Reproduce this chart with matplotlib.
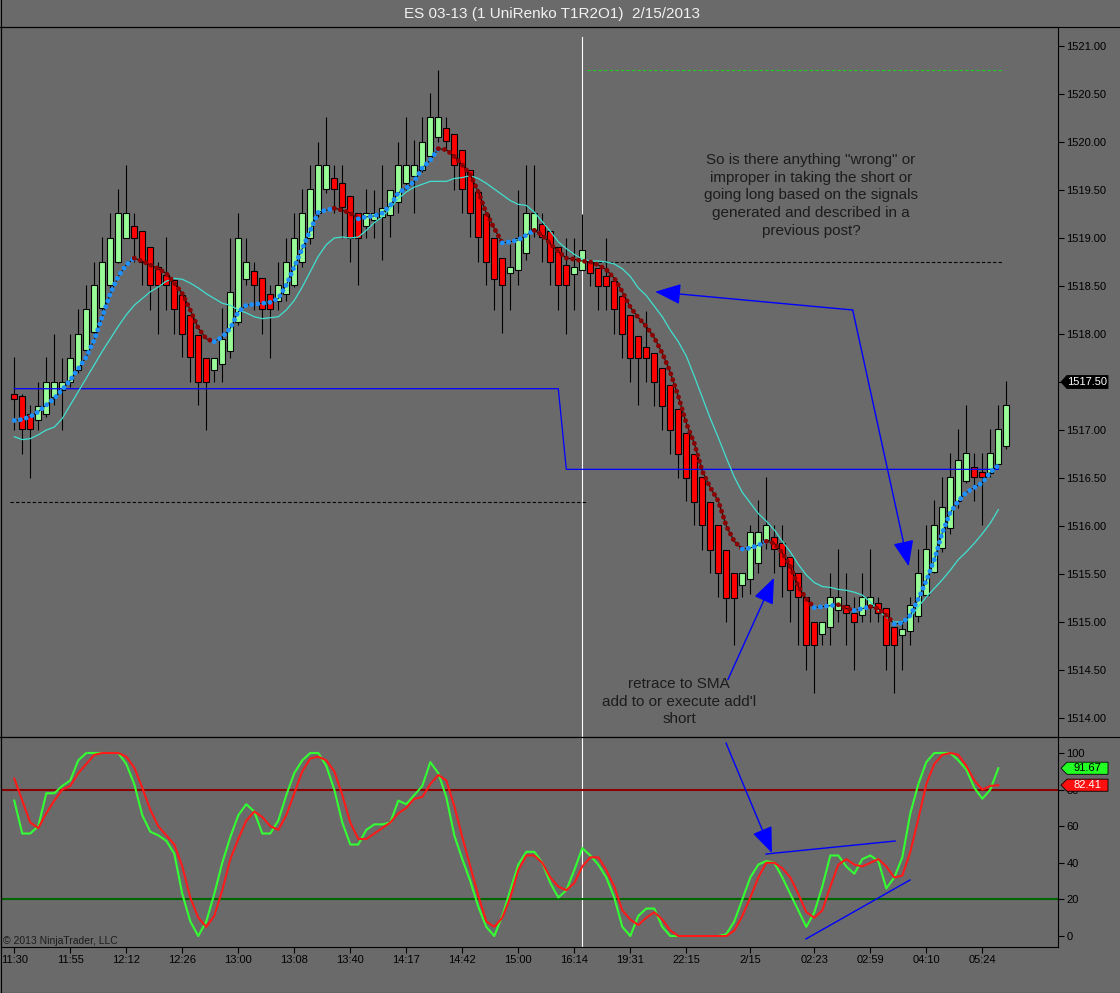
"""
ES 03-13 UniRenko chart (NinjaTrader style) with stochastics panel below.
"""

import matplotlib
matplotlib.use("Agg")
import matplotlib.pyplot as plt
import numpy as np
from matplotlib.lines import Line2D
from matplotlib.patches import Polygon
from matplotlib.transforms import blended_transform_factory

plt.rcParams['font.family'] = ['Liberation Sans', 'DejaVu Sans']

# ----------------------------------------------------------------------------
# Data
# ----------------------------------------------------------------------------
opens = [1517.38, 1517.35, 1517.17, 1517.10, 1517.17, 1517.34, 1517.42, 1517.50, 1517.63, 1517.83,
         1518.02, 1518.27, 1518.51, 1518.75, 1519.00, 1519.13, 1519.07, 1518.91, 1518.70, 1518.61,
         1518.56, 1518.41, 1518.20, 1517.99, 1517.75, 1517.63, 1517.69, 1517.82, 1518.13, 1518.57,
         1518.66, 1518.58, 1518.42, 1518.34, 1518.42, 1518.51, 1518.75, 1519.00, 1519.26, 1519.51,
         1519.63, 1519.57, 1519.44, 1519.26, 1519.12, 1519.19, 1519.22, 1519.24, 1519.38, 1519.57,
         1519.65, 1519.71, 1519.85, 1520.05, 1520.15, 1520.08, 1519.92, 1519.71, 1519.48, 1519.25,
         1519.00, 1518.79, 1518.64, 1518.67, 1518.84, 1519.08, 1519.15, 1519.07, 1518.91, 1518.72,
         1518.62, 1518.67, 1518.75, 1518.69, 1518.60, 1518.55, 1518.40, 1518.20, 1517.98, 1517.86,
         1517.80, 1517.65, 1517.47, 1517.22, 1516.97, 1516.75, 1516.51, 1516.25, 1516.01, 1515.75,
         1515.51, 1515.39, 1515.45, 1515.61, 1515.85, 1515.89, 1515.82, 1515.68, 1515.51, 1515.26,
         1515.00, 1514.88, 1514.95, 1515.13, 1515.18, 1515.09, 1515.07, 1515.18, 1515.20, 1515.15,
         1514.95, 1514.86, 1514.91, 1515.06, 1515.28, 1515.52, 1515.77, 1515.98, 1516.26, 1516.47,
         1516.61, 1516.56, 1516.55, 1516.65, 1516.83]
closes = [1517.32, 1517.01, 1517.01, 1517.25, 1517.50, 1517.50, 1517.50, 1517.75, 1518.00, 1518.26,
          1518.51, 1518.75, 1519.00, 1519.26, 1519.26, 1519.00, 1518.75, 1518.51, 1518.51, 1518.51,
          1518.26, 1518.00, 1517.76, 1517.50, 1517.50, 1517.75, 1517.95, 1518.44, 1519.00, 1518.75,
          1518.51, 1518.26, 1518.26, 1518.51, 1518.75, 1519.00, 1519.26, 1519.51, 1519.76, 1519.76,
          1519.51, 1519.32, 1519.00, 1519.00, 1519.26, 1519.26, 1519.31, 1519.50, 1519.76, 1519.76,
          1519.76, 1520.00, 1520.26, 1520.26, 1520.01, 1519.76, 1519.51, 1519.26, 1519.01, 1518.75,
          1518.57, 1518.51, 1518.70, 1519.00, 1519.26, 1519.26, 1519.01, 1518.75, 1518.51, 1518.51,
          1518.70, 1518.88, 1518.64, 1518.50, 1518.50, 1518.26, 1518.00, 1517.75, 1517.75, 1517.75,
          1517.50, 1517.25, 1517.00, 1516.75, 1516.50, 1516.25, 1516.01, 1515.75, 1515.51, 1515.25,
          1515.25, 1515.51, 1515.94, 1515.94, 1516.01, 1515.76, 1515.58, 1515.33, 1515.26, 1514.76,
          1514.76, 1515.00, 1515.26, 1515.26, 1515.09, 1515.00, 1515.26, 1515.26, 1515.09, 1514.76,
          1514.76, 1514.93, 1515.18, 1515.51, 1515.76, 1516.01, 1516.20, 1516.51, 1516.69, 1516.76,
          1516.51, 1516.51, 1516.76, 1517.01, 1517.26]
highs = [1517.76, 1517.38, 1517.26, 1517.50, 1517.76, 1518.00, 1517.75, 1518.00, 1518.26, 1518.51,
         1518.75, 1519.01, 1519.26, 1519.51, 1519.76, 1519.26, 1519.07, 1518.91, 1518.75, 1519.01,
         1518.56, 1518.41, 1518.20, 1517.99, 1517.75, 1517.75, 1518.27, 1519.00, 1519.26, 1519.00,
         1518.75, 1518.58, 1518.51, 1518.75, 1519.00, 1519.26, 1519.51, 1519.76, 1520.00, 1520.26,
         1519.76, 1519.76, 1519.44, 1519.26, 1519.51, 1519.50, 1519.76, 1519.50, 1520.00, 1520.26,
         1520.02, 1520.26, 1520.51, 1520.75, 1520.26, 1520.08, 1519.92, 1519.71, 1519.48, 1519.25,
         1519.00, 1518.79, 1518.94, 1519.50, 1519.76, 1519.76, 1519.26, 1519.07, 1518.91, 1519.00,
         1519.00, 1519.25, 1518.75, 1518.69, 1519.00, 1518.55, 1518.40, 1518.20, 1517.98, 1518.24,
         1517.80, 1517.65, 1517.47, 1517.22, 1516.97, 1516.75, 1516.51, 1516.25, 1516.01, 1515.75,
         1515.51, 1515.51, 1516.01, 1516.27, 1516.51, 1516.01, 1516.01, 1515.68, 1515.51, 1515.26,
         1515.00, 1515.00, 1515.51, 1515.76, 1515.51, 1515.26, 1515.51, 1515.76, 1515.26, 1515.15,
         1514.95, 1515.00, 1515.26, 1515.76, 1516.01, 1516.27, 1516.51, 1516.76, 1517.01, 1517.26,
         1516.76, 1516.76, 1517.01, 1517.26, 1517.51]
lows = [1517.00, 1516.75, 1516.50, 1517.00, 1517.14, 1517.26, 1517.00, 1517.45, 1517.59, 1517.80,
        1518.00, 1518.23, 1518.46, 1518.74, 1519.00, 1518.75, 1518.51, 1518.25, 1518.00, 1518.25,
        1518.00, 1517.76, 1517.50, 1517.26, 1517.00, 1517.50, 1517.50, 1517.75, 1518.09, 1518.51,
        1518.25, 1518.00, 1517.75, 1518.25, 1518.34, 1518.49, 1518.70, 1518.94, 1519.22, 1519.47,
        1519.26, 1519.00, 1518.75, 1518.51, 1519.00, 1519.00, 1518.77, 1519.01, 1519.26, 1519.50,
        1519.26, 1519.69, 1519.85, 1520.00, 1519.92, 1519.50, 1519.26, 1519.01, 1518.75, 1518.51,
        1518.25, 1518.01, 1518.25, 1518.51, 1518.77, 1519.01, 1518.75, 1518.51, 1518.25, 1518.00,
        1518.25, 1518.67, 1518.50, 1518.25, 1518.25, 1518.00, 1517.75, 1517.50, 1517.26, 1517.50,
        1517.25, 1517.00, 1516.75, 1516.50, 1516.26, 1516.01, 1515.75, 1515.51, 1515.26, 1515.00,
        1514.76, 1515.26, 1515.29, 1515.51, 1515.76, 1515.51, 1515.26, 1515.00, 1514.76, 1514.50,
        1514.26, 1514.76, 1514.76, 1515.00, 1514.76, 1514.50, 1515.00, 1515.00, 1515.00, 1514.50,
        1514.26, 1514.50, 1514.76, 1515.00, 1515.26, 1515.51, 1515.73, 1515.92, 1516.19, 1516.45,
        1516.26, 1516.01, 1516.51, 1516.60, 1516.80]

# fast MA (dotted, coloured by slope)
ma_fast = [1517.10, 1517.11, 1517.14, 1517.19, 1517.26, 1517.33, 1517.42, 1517.52, 1517.64, 1517.76,
           1517.94, 1518.18, 1518.42, 1518.60, 1518.72, 1518.79, 1518.76, 1518.72, 1518.68, 1518.63,
           1518.53, 1518.42, 1518.25, 1518.06, 1517.95, 1517.92, 1517.97, 1518.06, 1518.23, 1518.30,
           1518.31, 1518.32, 1518.33, 1518.37, 1518.51, 1518.70, 1518.89, 1519.08, 1519.27, 1519.29,
           1519.31, 1519.29, 1519.26, 1519.20, 1519.22, 1519.23, 1519.26, 1519.34, 1519.47, 1519.52,
           1519.59, 1519.73, 1519.81, 1519.93, 1519.92, 1519.85, 1519.76, 1519.66, 1519.48, 1519.26,
           1519.10, 1518.95, 1518.96, 1518.98, 1519.03, 1519.08, 1519.03, 1518.94, 1518.86, 1518.79,
           1518.78, 1518.76, 1518.75, 1518.72, 1518.67, 1518.58, 1518.44, 1518.28, 1518.17, 1518.08,
           1517.96, 1517.80, 1517.60, 1517.35, 1517.07, 1516.86, 1516.57, 1516.40, 1516.26, 1516.00,
           1515.84, 1515.76, 1515.77, 1515.80, 1515.84, 1515.82, 1515.72, 1515.58, 1515.37, 1515.24,
           1515.15, 1515.16, 1515.17, 1515.18, 1515.14, 1515.12, 1515.14, 1515.16, 1515.14, 1515.07,
           1514.98, 1514.99, 1515.07, 1515.24, 1515.43, 1515.65, 1515.93, 1516.14, 1516.26, 1516.35,
           1516.40, 1516.45, 1516.56, 1516.63]
# SMA (turquoise)
sma = [1516.93, 1516.90, 1516.91, 1516.95, 1517.00, 1517.03, 1517.12, 1517.26, 1517.40, 1517.54,
       1517.68, 1517.82, 1517.95, 1518.08, 1518.20, 1518.30, 1518.37, 1518.44, 1518.49, 1518.55,
       1518.58, 1518.57, 1518.53, 1518.48, 1518.42, 1518.37, 1518.32, 1518.30, 1518.25, 1518.22,
       1518.18, 1518.16, 1518.17, 1518.18, 1518.25, 1518.35, 1518.49, 1518.65, 1518.81, 1518.93,
       1519.00, 1519.01, 1519.00, 1519.01, 1519.08, 1519.16, 1519.22, 1519.31, 1519.41, 1519.48,
       1519.53, 1519.56, 1519.59, 1519.59, 1519.59, 1519.62, 1519.63, 1519.65, 1519.62, 1519.57,
       1519.51, 1519.45, 1519.39, 1519.35, 1519.34, 1519.27, 1519.17, 1519.07, 1518.96, 1518.89,
       1518.83, 1518.78, 1518.76, 1518.76, 1518.75, 1518.73, 1518.68, 1518.60, 1518.48, 1518.40,
       1518.29, 1518.18, 1518.04, 1517.92, 1517.77, 1517.56, 1517.34, 1517.12, 1516.92, 1516.71,
       1516.51, 1516.35, 1516.24, 1516.13, 1516.05, 1515.96, 1515.84, 1515.73, 1515.60, 1515.49,
       1515.41, 1515.37, 1515.36, 1515.34, 1515.33, 1515.31, 1515.28, 1515.21, 1515.12, 1515.05,
       1515.00, 1515.00, 1515.05, 1515.16, 1515.26, 1515.35, 1515.44, 1515.54, 1515.65, 1515.73,
       1515.82, 1515.92, 1516.03, 1516.17]
# session level line (blue step)
level_line = [1517.43] * 69 + [1516.59] * 55

# prior-session levels (dashed)
prior_low = 1516.25
prior_close = 1518.75
prior_high = 1520.75
last_price = 1517.50

# stochastics
stoch_k = [74, 56, 56, 60, 78, 78, 82, 85, 96, 100, 100, 100, 100, 100, 94, 83, 66, 57, 55, 52,
           45, 23, 8, 0, 8, 23, 40, 54, 66, 72, 68, 56, 56, 63, 77, 89, 96, 100, 100, 93,
           80, 62, 50, 50, 58, 61, 61, 62, 74, 72, 77, 82, 95, 89, 76, 55, 42, 30, 16, 5,
           0, 11, 25, 39, 46, 46, 40, 29, 21, 25, 36, 48, 44, 39, 32, 21, 5, 0, 11, 15,
           15, 5, 0, 0, 0, 0, 0, 0, 0, 1, 8, 20, 32, 39, 41, 40, 32, 23, 14, 5,
           13, 27, 44, 44, 38, 34, 42, 44, 41, 26, 32, 43, 67, 83, 95, 100, 100, 100, 96, 91,
           81, 75, 80, 91.67]
stoch_d = [86, 74, 62, 59, 67, 74, 80, 82, 89, 94, 99, 100, 100, 100, 98, 92, 81, 69, 60, 55,
           50, 38, 21, 10, 5, 11, 25, 42, 53, 63, 68, 65, 60, 58, 66, 78, 90, 97, 98, 96,
           90, 77, 62, 53, 53, 56, 59, 62, 67, 70, 75, 76, 83, 88, 85, 71, 54, 38, 22, 8,
           5, 10, 21, 36, 44, 44, 40, 32, 27, 25, 29, 38, 43, 43, 36, 27, 14, 9, 6, 10,
           13, 9, 3, 0, 0, 0, 0, 0, 0, 0, 3, 11, 21, 32, 40, 40, 37, 32, 23, 13,
           10, 14, 27, 39, 42, 39, 38, 40, 42, 38, 32, 33, 46, 64, 83, 94, 99, 100, 99, 93,
           85, 80, 82, 82.41]

x_tick_bars = [0, 7, 14, 21, 28, 35, 42, 49, 56, 63, 70, 77, 84, 92, 100, 107, 114, 121]
x_tick_labels = ['11:30', '11:55', '12:12', '12:26', '13:00', '13:08', '13:40', '14:17', '14:42',
                 '15:00', '16:14', '19:31', '22:15', '2/15', '02:23', '02:59', '04:10', '05:24']
session_bar = 71

# ----------------------------------------------------------------------------
# Styling
# ----------------------------------------------------------------------------
BG = '#6a6a6a'
UP = '#98fb98'
DOWN = '#ff0000'
MA_UP = '#1e90ff'
MA_DN = '#8b0000'
TXT = '#1c1c1c'
W, H = 1120, 993


def fx(px):
    return px / W


def fy(py):
    return 1 - py / H


fig = plt.figure(figsize=(W / 100, H / 100), dpi=100, facecolor=BG)
ax = fig.add_axes([fx(1), fy(737), fx(1058) - fx(1), fy(27) - fy(737)], facecolor=BG)
ax2 = fig.add_axes([fx(1), fy(947), fx(1058) - fx(1), fy(737) - fy(947)], facecolor=BG, sharex=ax)

opens = np.array(opens); closes = np.array(closes)
highs = np.array(highs); lows = np.array(lows)
ma_fast = np.array(ma_fast)
bars = np.arange(len(opens))
ind = np.arange(len(ma_fast))

# ---- candles ----
ax.vlines(bars, lows, highs, color='black', lw=0.8, zorder=2)
body_col = np.where(closes >= opens, UP, DOWN)
ax.bar(bars, closes - opens, bottom=opens, width=0.74, color=body_col,
       edgecolor='black', linewidth=0.8, zorder=3)

# ---- prior levels / session line ----
ax.hlines(prior_low, -0.5, session_bar + 0.6, colors='black', lw=0.8,
          linestyles=(0, (3, 2)), zorder=2)
ax.hlines(prior_close, session_bar + 0.6, len(ma_fast) - 0.5, colors='black', lw=0.8,
          linestyles=(0, (3, 2)), zorder=2)
ax.hlines(prior_high, session_bar + 0.6, len(ma_fast) - 0.5, colors='#22cc22', lw=0.8,
          linestyles=(0, (3, 2)), zorder=2)
ax.axvline(session_bar, ymax=0.986, color='white', lw=0.8, zorder=1.5)
ax2.axvline(session_bar, color='white', lw=0.8, zorder=1.5)

ax.plot(ind, level_line, color='#0000ff', lw=0.9, zorder=4)
ax.plot(ind, sma, color='#40e0d0', lw=0.9, zorder=4)

# ---- fast MA: thin black line + dotted coloured by slope ----
ax.plot(ind, ma_fast, color='black', lw=0.7, zorder=4.5)
rising = np.diff(ma_fast) > 0
start = 0
for j in range(1, len(rising) + 1):
    if j == len(rising) or rising[j] != rising[start]:
        seg = slice(start, j + 1)
        ax.plot(ind[seg], ma_fast[seg], color=MA_UP if rising[start] else MA_DN,
                lw=3.5, ls=(0, (0.01, 1.25)), dash_capstyle='round', zorder=5)
        start = j

# ---- axes setup ----
ax.set_xlim(-1.66, 130.46)
ax.set_ylim(1513.802, 1521.198)
ax.yaxis.tick_right()
ax.set_yticks(np.arange(1514.0, 1521.01, 0.5))
ax.set_yticklabels([f'{v:.2f}' for v in np.arange(1514.0, 1521.01, 0.5)])
ax.tick_params(axis='y', direction='out', length=4, width=0.8, colors='black', labelsize=8, pad=2)
ax.tick_params(axis='x', bottom=False, labelbottom=False)
for s in ax.spines.values():
    s.set_color('black'); s.set_linewidth(0.8)

ax2.set_ylim(-6.01, 108.74)
ax2.yaxis.tick_right()
ax2.set_yticks([0, 20, 40, 60, 80, 100])
ax2.tick_params(axis='y', direction='out', length=4, width=0.8, colors='black', labelsize=8, pad=2)
ax2.set_xticks(x_tick_bars)
ax2.set_xticklabels(x_tick_labels)
ax2.tick_params(axis='x', direction='out', length=4, width=0.8, colors='black', labelsize=8, pad=2)
for s in ax2.spines.values():
    s.set_color('black'); s.set_linewidth(0.8)

# ---- stochastics ----
ax2.axhline(80, color='#8b0000', lw=1.5, zorder=2)
ax2.axhline(20, color='#006400', lw=1.5, zorder=2)
ax2.plot(ind, stoch_k, color='#33ff33', lw=1.5, zorder=3)
ax2.plot(ind, stoch_d, color='#ff1a1a', lw=1.5, zorder=3)


# ---- value flags on the right ----
def flag(axis, value, half_h, face, text, tcol):
    tr = blended_transform_factory(fig.transFigure, axis.transData)
    pts = [(fx(1061), value), (fx(1067), value + half_h), (fx(1108), value + half_h),
           (fx(1108), value - half_h), (fx(1067), value - half_h)]
    axis.add_patch(Polygon(pts, closed=True, facecolor=face, edgecolor='black', lw=0.6,
                           transform=tr, clip_on=False, zorder=10))
    axis.text(fx(1087.5), value, text, transform=tr, ha='center', va='center',
              color=tcol, fontsize=8, zorder=11, clip_on=False)


flag(ax, last_price, 0.068, 'black', f'{last_price:.2f}', 'white')
flag(ax2, stoch_k[-1], 3.3, '#22ff22', f'{stoch_k[-1]:.2f}', 'black')
flag(ax2, stoch_d[-1], 3.3, '#ff1010', f'{stoch_d[-1]:.2f}', 'white')

# ---- annotations ----
ax.text(99.6, 1519.445, 'So is there anything "wrong" or\nimproper in taking the short or\n'
        'going long based on the signals\ngenerated and described in a\nprevious post?',
        ha='center', va='center', fontsize=11, color=TXT, linespacing=1.33, zorder=12)
ax.text(83.1, 1514.17, "retrace to SMA\nadd to or execute add'l\nshort",
        ha='center', va='center', fontsize=11, color=TXT, linespacing=1.33, zorder=12)

arrow = dict(arrowstyle='-|>,head_length=0.8,head_width=0.32', color='#0000ff', lw=1.0,
             shrinkA=0, shrinkB=0, mutation_scale=20)
ax.annotate('', xy=(80.1, 1518.44), xytext=(104.8, 1518.25), arrowprops=arrow, zorder=12)
ax.annotate('', xy=(111.8, 1515.58), xytext=(104.8, 1518.25), arrowprops=arrow, zorder=12)
ax.annotate('', xy=(94.96, 1515.46), xytext=(89.2, 1514.40), arrowprops=arrow, zorder=12)
ax2.annotate('', xy=(94.7, 45.4), xytext=(88.96, 105.5), arrowprops=arrow, zorder=12)
ax2.plot([93.96, 110.1], [44.8, 51.9], color='#0000ff', lw=1.0, zorder=12)
ax2.plot([98.96, 111.96], [-1.6, 30.6], color='#0000ff', lw=1.0, zorder=12)

ax2.text(0.002, 0.005, '\u00a9 2013 NinjaTrader, LLC', transform=ax2.transAxes,
         fontsize=7.5, color=TXT, ha='left', va='bottom')

# ---- title + frame lines ----
fig.text(fx(552), fy(14), 'ES 03-13 (1 UniRenko T1R2O1)  2/15/2013', ha='center', va='center',
         fontsize=11, color='#f2f2f2')
for yy in (27, 737):
    fig.add_artist(Line2D([0, 1], [fy(yy), fy(yy)], transform=fig.transFigure,
                          color='black', lw=0.8))
fig.add_artist(Line2D([fx(0.5), fx(0.5)], [0, 1], transform=fig.transFigure, color='black', lw=0.8))
fig.add_artist(Line2D([0, 1], [fy(992.5), fy(992.5)], transform=fig.transFigure, color='black', lw=0.8))

fig.savefig('out.png', dpi=100, facecolor=BG)
